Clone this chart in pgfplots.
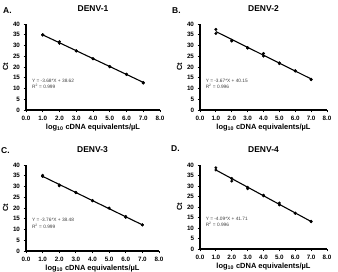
\documentclass[border=0pt]{standalone}
\usepackage{pgfplots}
\pgfplotsset{compat=1.18}
\usepackage{fontspec}
\setmainfont{Liberation Sans}

\pgfplotsset{
  prism/.style={
    scale only axis,
    xmin=0, xmax=8, ymin=0, ymax=40,
    axis lines*=left,
    axis line style={-, line width=1.1pt},
    xtick={0,1,...,8}, ytick={0,5,...,40},
    tick align=outside,
    major tick length=2.5pt,
    tick style={line width=0.9pt, black},
    /pgf/number format/assume math mode=true,
    ticklabel style={font=\bfseries\fontsize{6.3}{7}\selectfont},
    xticklabel style={/pgf/number format/.cd, fixed, fixed zerofill, precision=1},
    yticklabel style={/pgf/number format/.cd, fixed, precision=0},
    xlabel={log\textsubscript{10} cDNA equivalents/µL},
    ylabel={Ct},
    label style={font=\bfseries\fontsize{7.5}{9}\selectfont},
    xlabel style={yshift=3.5pt},
    ylabel style={yshift=-2pt},
    title style={font=\bfseries\fontsize{8.5}{10}\selectfont, yshift=3pt},
    clip=false,
  },
  pts/.style={only marks, mark=*, mark size=1.3pt, black},
  fit/.style={no marks, black, line width=1.1pt},
}
\tikzset{eq/.style={anchor=west, font=\fontsize{4.8}{5.5}\selectfont, text=black!75, inner sep=0pt}}

\begin{document}
\begin{tikzpicture}
\useasboundingbox (0,0) rectangle (338bp,272bp);

% Panel A
\begin{axis}[prism, at={(26bp,162bp)}, anchor=south west, width=134bp, height=86bp, title={DENV-1}]
\addplot[pts] coordinates {(1,35.0) (1,34.9) (2,31.8) (2,31.0) (3,27.6) (3,27.4) (4,23.9) (4,23.8) (5,20.2) (5,20.1) (6,16.7) (6,16.5) (7,12.8) (7,12.5)};
\addplot[fit] coordinates {(1,34.94) (7,12.86)};
\node[eq] at (axis cs:0.35,13.6) {Y = -3.68*X + 38.62};
\node[eq] at (axis cs:0.35,10.8) {R\textsuperscript{2} = 0.999};
\end{axis}

% Panel B
\begin{axis}[prism, at={(200bp,162bp)}, anchor=south west, width=127bp, height=86bp, title={DENV-2}]
\addplot[pts] coordinates {(1,37.5) (1,35.6) (2,32.5) (2,32.1) (3,29.0) (3,28.8) (4,26.3) (4,25.1) (5,21.9) (5,21.6) (6,18.3) (6,18.1) (7,14.3) (7,14.1)};
\addplot[fit] coordinates {(1,36.48) (7,14.46)};
\node[eq] at (axis cs:0.35,13.6) {Y = -3.67*X + 40.15};
\node[eq] at (axis cs:0.35,10.8) {R\textsuperscript{2} = 0.996};
\end{axis}

% Panel C
\begin{axis}[prism, at={(26bp,21bp)}, anchor=south west, width=133bp, height=86bp, title={DENV-3}]
\addplot[pts] coordinates {(1,35.2) (1,34.7) (2,30.7) (2,30.3) (3,27.3) (3,27.1) (4,23.5) (4,23.3) (5,20.0) (5,19.9) (6,16.1) (6,15.7) (7,12.2) (7,12.1)};
\addplot[fit] coordinates {(1,34.72) (7,12.16)};
\node[eq] at (axis cs:0.35,14.4) {Y = -3.76*X + 38.48};
\node[eq] at (axis cs:0.35,11.6) {R\textsuperscript{2} = 0.999};
\end{axis}

% Panel D
\begin{axis}[prism, at={(200bp,23bp)}, anchor=south west, width=127bp, height=84bp, title={DENV-4}]
\addplot[pts] coordinates {(1,38.7) (1,37.6) (2,33.6) (2,32.3) (3,29.4) (3,28.7) (4,25.6) (4,25.3) (5,21.9) (5,21.0) (6,17.1) (6,17.0) (7,13.2) (7,13.0)};
\addplot[fit] coordinates {(1,37.62) (7,13.08)};
\node[eq] at (axis cs:0.35,14.4) {Y = -4.09*X + 41.71};
\node[eq] at (axis cs:0.35,11.6) {R\textsuperscript{2} = 0.996};
\end{axis}

% Panel letters
\begin{scope}[every node/.style={anchor=west, font=\bfseries\fontsize{8.5}{10}\selectfont, inner sep=0pt}]
\node at (3bp,261bp) {A.};
\node at (172bp,261bp) {B.};
\node at (1bp,121bp) {C.};
\node at (171bp,123bp) {D.};
\end{scope}
\end{tikzpicture}
\end{document}
